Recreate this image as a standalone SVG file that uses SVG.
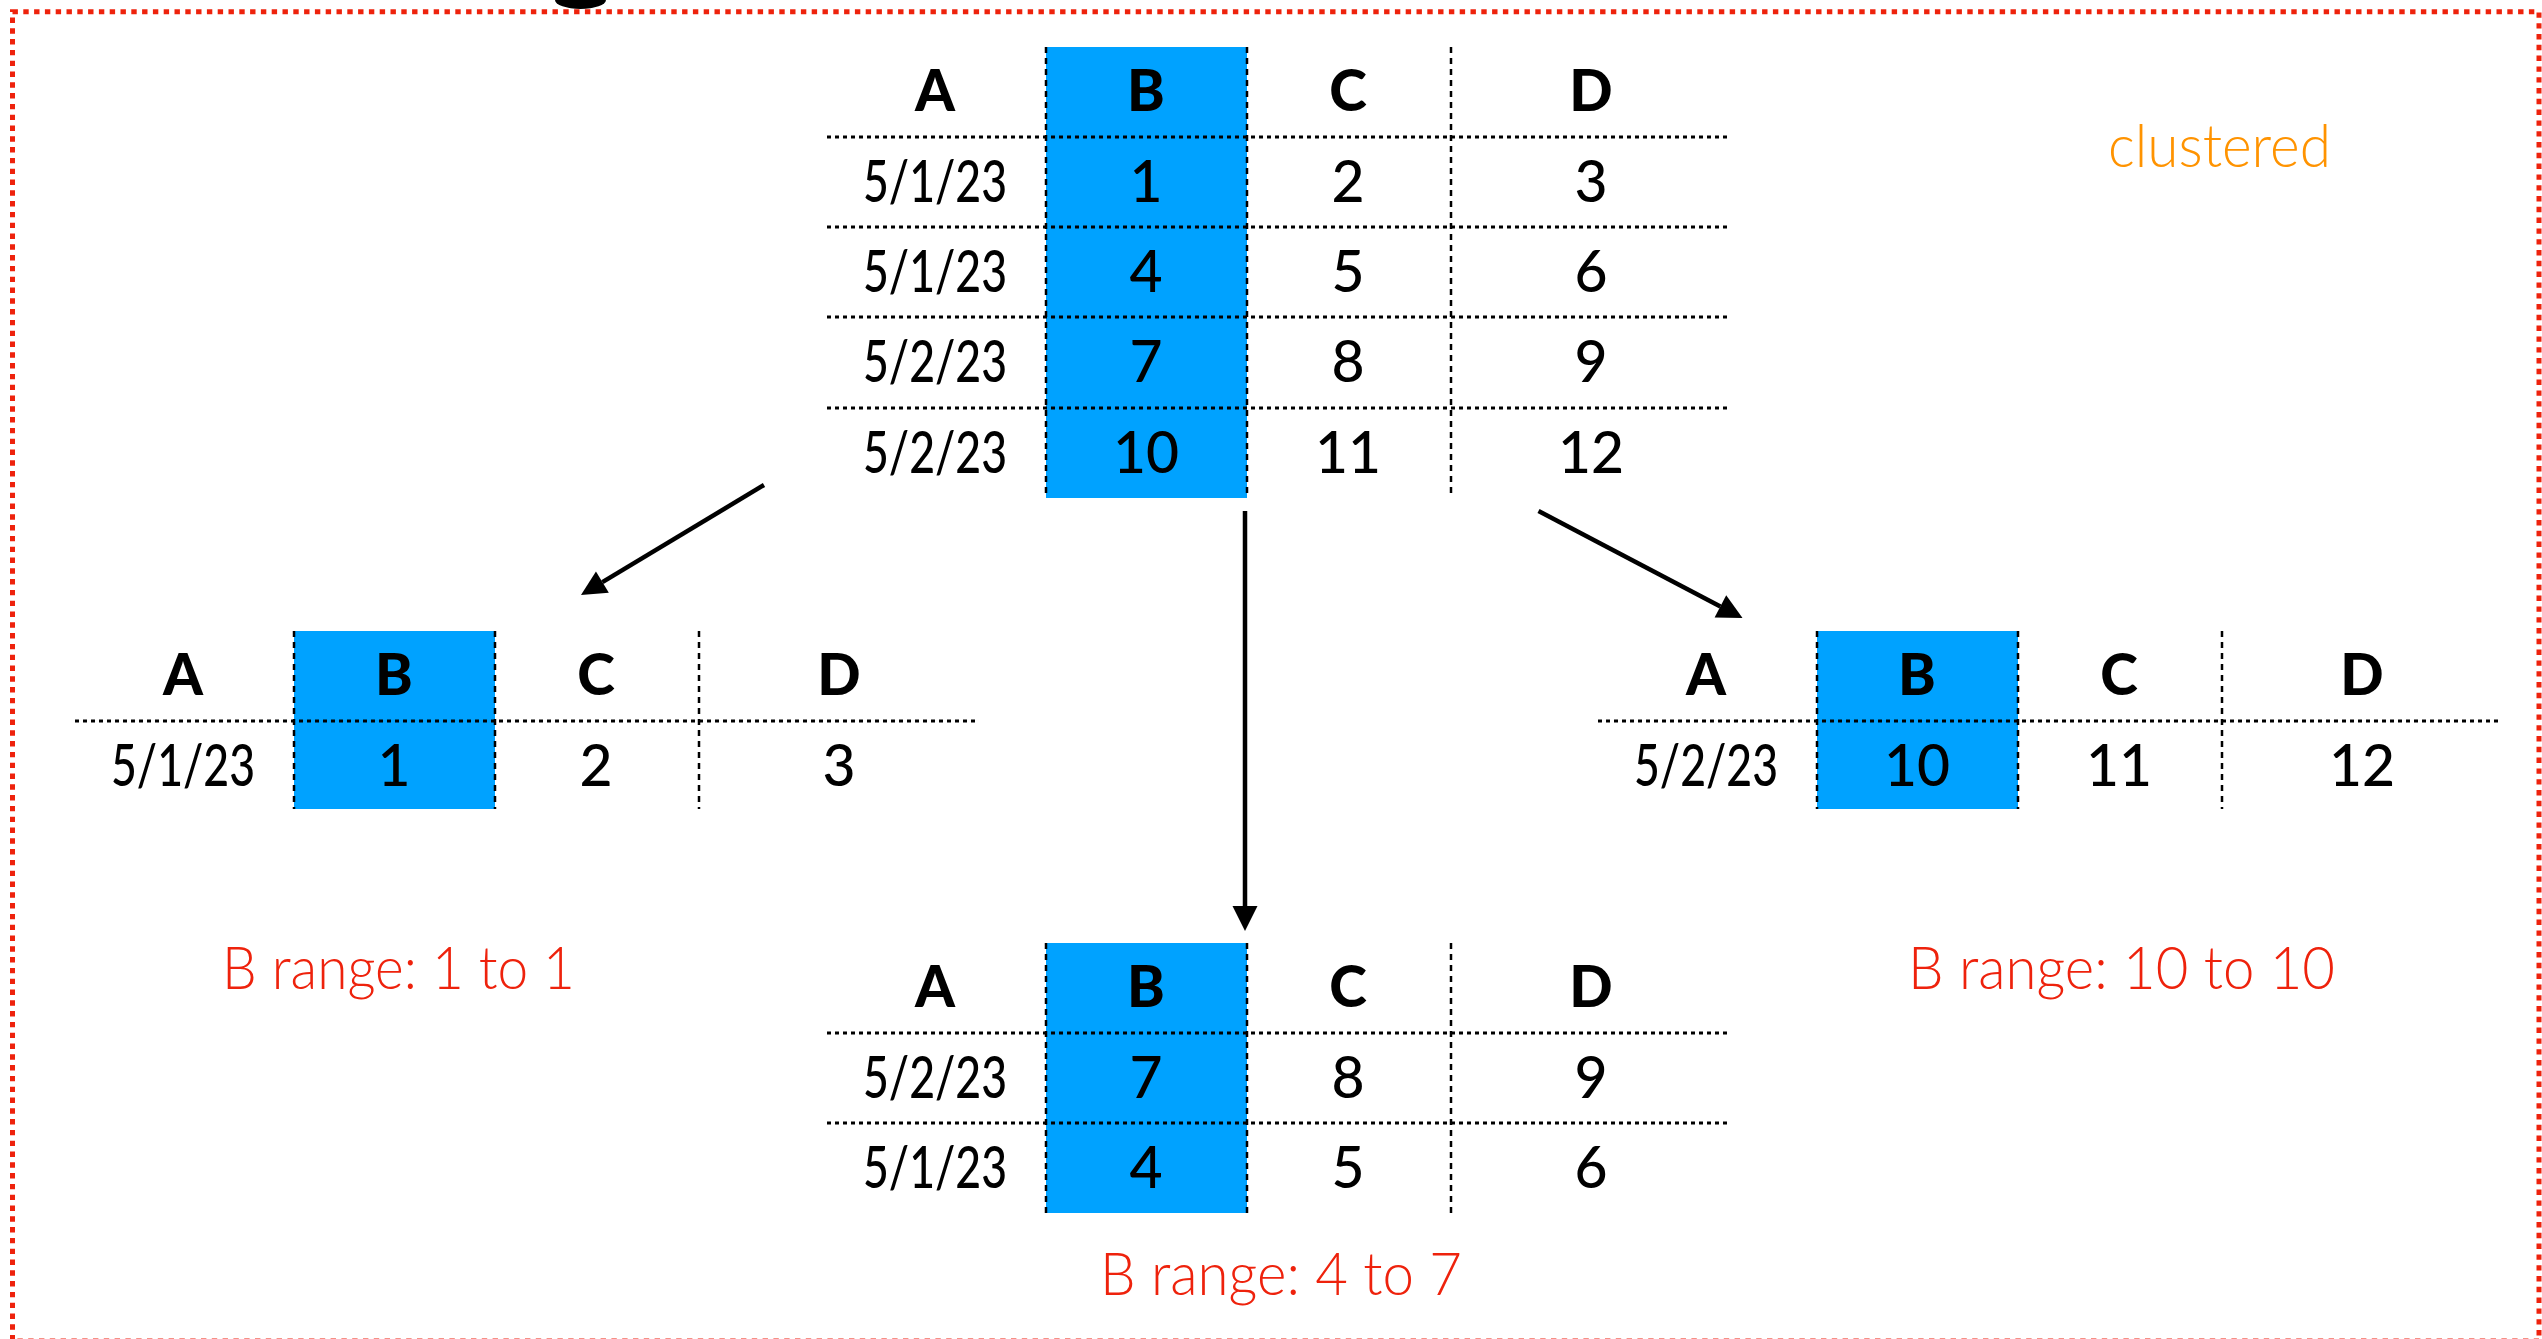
<svg xmlns="http://www.w3.org/2000/svg" width="2542" height="1339" viewBox="0 0 2542 1339">
<style>
.hl{fill:#00A2FF}
.v{stroke:#000;stroke-width:2.5;stroke-dasharray:6 5;fill:none}
.h{stroke:#000;stroke-width:3;stroke-dasharray:4 4;fill:none}
.hd{font-family:Lato,"Liberation Sans",sans-serif;font-weight:900;font-size:57px;text-anchor:middle;fill:#000}
.c{font-family:Lato,"Liberation Sans",sans-serif;font-weight:500;font-size:57px;text-anchor:middle;fill:#000}
.lbl{font-family:Lato,"Liberation Sans",sans-serif;font-weight:300;font-size:60px;fill:#EE220C}
.conn{stroke:#000;stroke-width:4.5;fill:none}
</style>
<defs>
<marker id="ah" markerUnits="userSpaceOnUse" markerWidth="25" markerHeight="25" refX="0" refY="12.5" orient="auto" overflow="visible">
<path d="M0,0 L25,12.5 L0,25 Z" fill="#000"/>
</marker>
</defs>
<rect x="12.5" y="11.7" width="2526.5" height="1329.3" fill="none" stroke="#EE220C" stroke-width="5" stroke-dasharray="5.4 5.4"/>
<path d="M555,0 A25.5,9 0 0 0 606,0 Z" fill="#000"/>
<g id="node-top">
<rect class="hl" x="1046" y="47" width="201" height="451"/>
<line class="v" x1="1046" y1="47" x2="1046" y2="498"/>
<line class="v" x1="1247" y1="47" x2="1247" y2="498"/>
<line class="v" x1="1451" y1="47" x2="1451" y2="498"/>
<line class="h" x1="827" y1="137" x2="1730" y2="137"/>
<line class="h" x1="827" y1="227" x2="1730" y2="227"/>
<line class="h" x1="827" y1="317" x2="1730" y2="317"/>
<line class="h" x1="827" y1="408" x2="1730" y2="408"/>
<text class="hd" x="935" y="111">A</text><text class="hd" x="1146" y="111">B</text><text class="hd" x="1348" y="111">C</text><text class="hd" x="1591" y="111">D</text>
<text class="c" x="935" y="202" textLength="144" lengthAdjust="spacingAndGlyphs">5/1/23</text><text class="c" x="1146" y="202">1</text><text class="c" x="1348" y="202">2</text><text class="c" x="1591" y="202">3</text>
<text class="c" x="935" y="292" textLength="144" lengthAdjust="spacingAndGlyphs">5/1/23</text><text class="c" x="1146" y="292">4</text><text class="c" x="1348" y="292">5</text><text class="c" x="1591" y="292">6</text>
<text class="c" x="935" y="382" textLength="144" lengthAdjust="spacingAndGlyphs">5/2/23</text><text class="c" x="1146" y="382">7</text><text class="c" x="1348" y="382">8</text><text class="c" x="1591" y="382">9</text>
<text class="c" x="935" y="473" textLength="144" lengthAdjust="spacingAndGlyphs">5/2/23</text><text class="c" x="1146" y="473">10</text><text class="c" x="1348" y="473">11</text><text class="c" x="1591" y="473">12</text>
</g>
<g id="node-left" transform="translate(-752,584)">
<rect class="hl" x="1046" y="47" width="201" height="178"/>
<line class="v" x1="1046" y1="47" x2="1046" y2="225"/>
<line class="v" x1="1247" y1="47" x2="1247" y2="225"/>
<line class="v" x1="1451" y1="47" x2="1451" y2="225"/>
<line class="h" x1="827" y1="137" x2="1730" y2="137"/>
<text class="hd" x="935" y="111">A</text><text class="hd" x="1146" y="111">B</text><text class="hd" x="1348" y="111">C</text><text class="hd" x="1591" y="111">D</text>
<text class="c" x="935" y="202" textLength="144" lengthAdjust="spacingAndGlyphs">5/1/23</text><text class="c" x="1146" y="202">1</text><text class="c" x="1348" y="202">2</text><text class="c" x="1591" y="202">3</text>
</g>
<g id="node-right" transform="translate(771,584)">
<rect class="hl" x="1046" y="47" width="201" height="178"/>
<line class="v" x1="1046" y1="47" x2="1046" y2="225"/>
<line class="v" x1="1247" y1="47" x2="1247" y2="225"/>
<line class="v" x1="1451" y1="47" x2="1451" y2="225"/>
<line class="h" x1="827" y1="137" x2="1730" y2="137"/>
<text class="hd" x="935" y="111">A</text><text class="hd" x="1146" y="111">B</text><text class="hd" x="1348" y="111">C</text><text class="hd" x="1591" y="111">D</text>
<text class="c" x="935" y="202" textLength="144" lengthAdjust="spacingAndGlyphs">5/2/23</text><text class="c" x="1146" y="202">10</text><text class="c" x="1348" y="202">11</text><text class="c" x="1591" y="202">12</text>
</g>
<g id="node-bottom" transform="translate(0,896)">
<rect class="hl" x="1046" y="47" width="201" height="270"/>
<line class="v" x1="1046" y1="47" x2="1046" y2="317"/>
<line class="v" x1="1247" y1="47" x2="1247" y2="317"/>
<line class="v" x1="1451" y1="47" x2="1451" y2="317"/>
<line class="h" x1="827" y1="137" x2="1730" y2="137"/>
<line class="h" x1="827" y1="227" x2="1730" y2="227"/>
<text class="hd" x="935" y="111">A</text><text class="hd" x="1146" y="111">B</text><text class="hd" x="1348" y="111">C</text><text class="hd" x="1591" y="111">D</text>
<text class="c" x="935" y="202" textLength="144" lengthAdjust="spacingAndGlyphs">5/2/23</text><text class="c" x="1146" y="202">7</text><text class="c" x="1348" y="202">8</text><text class="c" x="1591" y="202">9</text>
<text class="c" x="935" y="292" textLength="144" lengthAdjust="spacingAndGlyphs">5/1/23</text><text class="c" x="1146" y="292">4</text><text class="c" x="1348" y="292">5</text><text class="c" x="1591" y="292">6</text>
</g>
<g id="label-clustered"><text x="2108" y="167" font-family="Lato,'Liberation Sans',sans-serif" font-weight="300" font-size="60" fill="#FF9300" textLength="223" lengthAdjust="spacingAndGlyphs">clustered</text></g>
<g id="label-left"><text class="lbl" x="222" y="989" textLength="353" lengthAdjust="spacingAndGlyphs">B range: 1 to 1</text></g>
<g id="label-right"><text class="lbl" x="1908" y="989" textLength="427" lengthAdjust="spacingAndGlyphs">B range: 10 to 10</text></g>
<g id="label-bottom"><text class="lbl" x="1100" y="1295" textLength="362" lengthAdjust="spacingAndGlyphs">B range: 4 to 7</text></g>
<g id="connectors">
<line class="conn" x1="764" y1="485" x2="602.4" y2="582.1" marker-end="url(#ah)"/>
<line class="conn" x1="1245" y1="511" x2="1245" y2="906" marker-end="url(#ah)"/>
<line class="conn" x1="1538.5" y1="511" x2="1720.4" y2="606.4" marker-end="url(#ah)"/>
</g>
</svg>
